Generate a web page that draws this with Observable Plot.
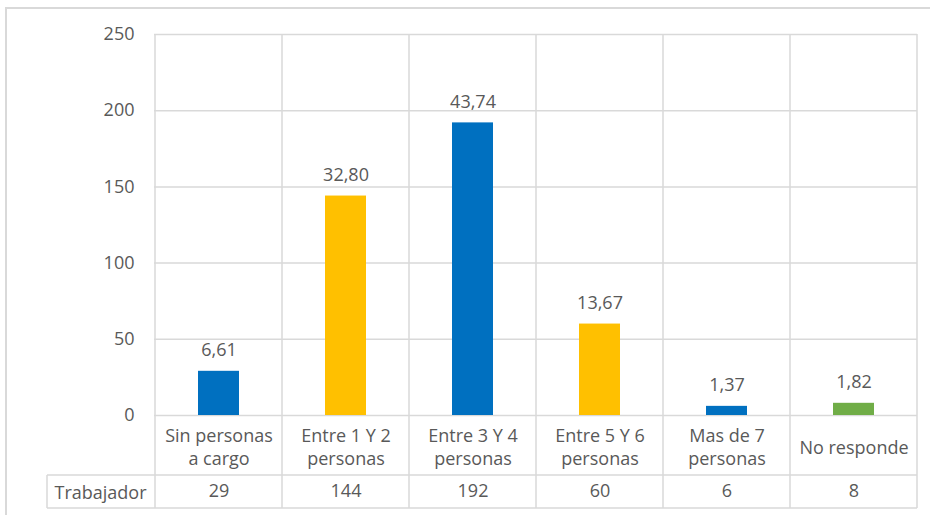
<!DOCTYPE html>
<html>
<head>
<meta charset="utf-8">
<script src="https://cdn.jsdelivr.net/npm/d3@7"></script>
<script src="https://cdn.jsdelivr.net/npm/@observablehq/plot@0.6"></script>
<style>
  html, body { margin: 0; padding: 0; background: #fff; }
  #chart { width: 930px; height: 515px; overflow: hidden; }
</style>
</head>
<body>
<div id="chart"></div>
<script>
const categories = ["Sin personas\na cargo", "Entre 1 Y 2\npersonas", "Entre 3 Y 4\npersonas", "Entre 5 Y 6\npersonas", "Mas de 7\npersonas", "No responde"];
const trabajador = [29, 144, 192, 60, 6, 8];
const percentLabels = ["6,61", "32,80", "43,74", "13,67", "1,37", "1,82"];
const barColors = ["#0070C0", "#FFC000", "#0070C0", "#FFC000", "#0070C0", "#70AD47"];
const yTicks = [0, 50, 100, 150, 200, 250];
const rowLabel = "Trabajador";

const data = categories.map((c, i) => ({cat: c, value: trabajador[i], pct: percentLabels[i]}));
const textColor = "#595959";
const gridColor = "#d9d9d9";
const font = "'Open Sans', 'Noto Sans', sans-serif";

const chart = Plot.plot({
  width: 930,
  height: 515,
  marginLeft: 154,
  marginRight: 13,
  marginTop: 34,
  marginBottom: 100,
  style: {fontFamily: font, fontSize: "18px", color: textColor, background: "#fff"},
  x: {domain: categories, paddingInner: 0.68, paddingOuter: 0.34, axis: null},
  y: {domain: [0, 250], ticks: yTicks, grid: false, tickSize: 0, tickPadding: 20, label: null},
  color: {domain: categories, range: barColors},
  marks: [
    Plot.ruleY(yTicks, {stroke: gridColor, strokeWidth: 1.5}),
    Plot.barY(data, {x: "cat", y: "value", fill: "cat"}),
    Plot.text(data, {x: "cat", y: "value", text: "pct", dy: -21, lineAnchor: "middle", fill: textColor, fontSize: 18}),
    Plot.text(data, {x: "cat", y: () => 0, text: "cat", dy: 31, lineAnchor: "middle", lineHeight: 1.28, fill: textColor, fontSize: 18}),
    Plot.text(data, {x: "cat", y: () => 0, text: d => String(d.value), dy: 76, lineAnchor: "middle", fill: textColor, fontSize: 18})
  ]
});

document.getElementById("chart").appendChild(chart);

// Table grid and outer border drawn with Plot's own scales
const xs = chart.scale("x");
const ys = chart.scale("y");
const svg = d3.select(chart);
const step = xs.step, bw = xs.bandwidth;
const left = xs.range[0], right = xs.range[1];
const yTop = ys.apply(250), yZero = ys.apply(0);
const row1 = yZero + 60, row2 = yZero + 93;
const labelLeft = 47;
const g = svg.insert("g", ":first-child").attr("stroke", gridColor).attr("stroke-width", 1.5).attr("fill", "none");
// column boundaries
const bounds = categories.map(c => xs.apply(c) - (step - bw) / 2).concat([right]);
bounds.forEach(x => g.append("line").attr("x1", x).attr("x2", x).attr("y1", yTop).attr("y2", row2));
// table horizontal lines
g.append("line").attr("x1", labelLeft).attr("x2", right).attr("y1", row1).attr("y2", row1);
g.append("line").attr("x1", labelLeft).attr("x2", right).attr("y1", row2).attr("y2", row2);
g.append("line").attr("x1", labelLeft).attr("x2", labelLeft).attr("y1", row1).attr("y2", row2);
// outer chart border
g.append("path").attr("d", `M6,520V8H935`).attr("stroke-width", 2);
// row header
svg.append("text")
  .attr("x", (labelLeft + left) / 2).attr("y", (row1 + row2) / 2)
  .attr("text-anchor", "middle").attr("dominant-baseline", "central")
  .attr("fill", textColor).attr("font-size", 18).attr("font-family", font)
  .text(rowLabel);
</script>
</body>
</html>
